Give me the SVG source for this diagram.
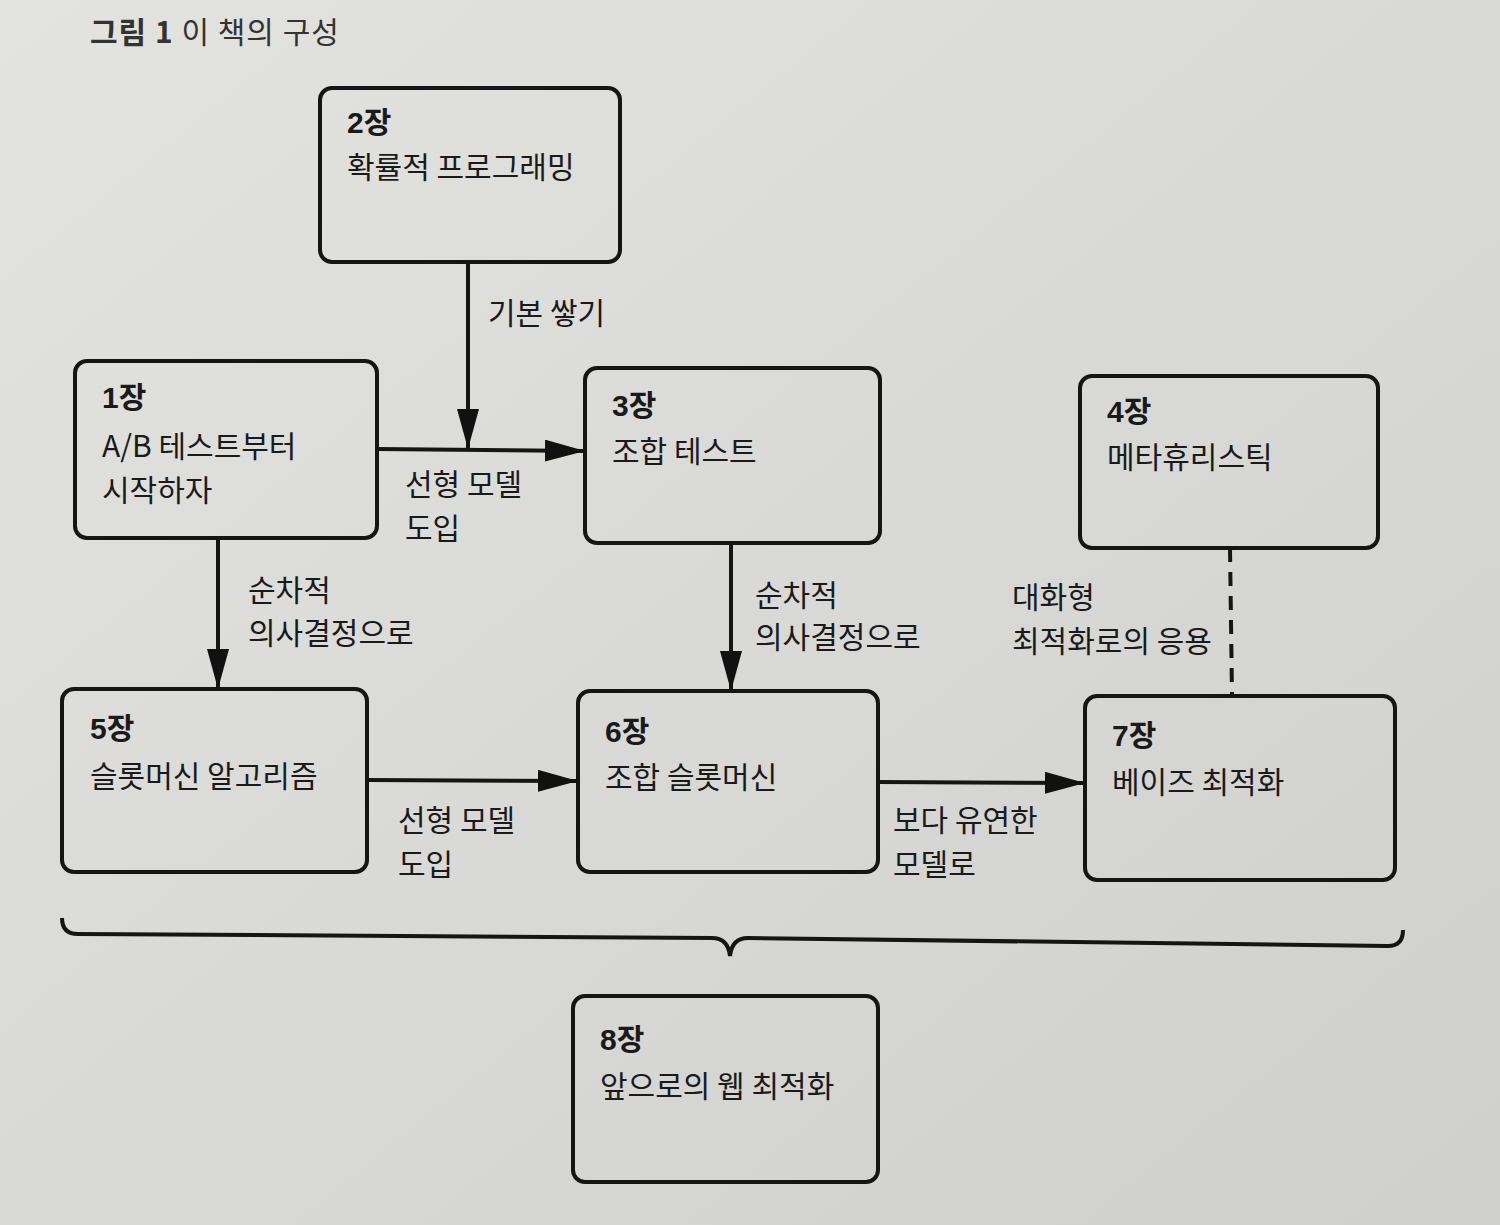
<svg xmlns="http://www.w3.org/2000/svg" width="1500" height="1225" viewBox="0 0 1500 1225">
<defs>
<marker id="arrBig" viewBox="0 0 40 22" refX="40" refY="11" markerWidth="40" markerHeight="22" markerUnits="userSpaceOnUse" orient="auto">
<path d="M0,0 L40,11 L0,22 Z" fill="#111"/>
</marker>
<linearGradient id="bg" x1="0" y1="0" x2="1" y2="1">
<stop offset="0" stop-color="#e3e3e0"/>
<stop offset="1" stop-color="#cfd0ce"/>
</linearGradient>
</defs>
<style>
.box{fill:none;stroke:#151515;stroke-width:4}
.t{font-family:"Noto Sans CJK KR","Noto Sans",sans-serif;font-size:30px;fill:#1a1a1a}
.h{font-family:"Liberation Sans","Noto Sans CJK KR",sans-serif;font-size:30px;font-weight:bold;fill:#1a1a1a}
.c{fill:none;stroke:#151515;stroke-width:4}
</style>
<rect x="0" y="0" width="1500" height="1225" fill="url(#bg)"/>
<text x="90" y="43" style="font-family:'Noto Sans CJK KR',sans-serif;font-size:30px;fill:#333;letter-spacing:1px"><tspan font-weight="bold">그림 1</tspan> 이 책의 구성</text>

<g id="node-ch2">
<rect class="box" x="320" y="88" width="300" height="174" rx="12"/>
<text class="h" x="347" y="133">2장</text>
<text class="t" x="347" y="178">확률적 프로그래밍</text>
</g>
<g id="node-ch1">
<rect class="box" x="75" y="361" width="302" height="177" rx="12"/>
<text class="h" x="102" y="408">1장</text>
<text class="t" x="102" y="457">A/B 테스트부터</text>
<text class="t" x="102" y="501">시작하자</text>
</g>
<g id="node-ch3">
<rect class="box" x="585" y="368" width="295" height="175" rx="12"/>
<text class="h" x="612" y="416">3장</text>
<text class="t" x="612" y="462">조합 테스트</text>
</g>
<g id="node-ch4">
<rect class="box" x="1080" y="376" width="298" height="172" rx="12"/>
<text class="h" x="1107" y="422">4장</text>
<text class="t" x="1107" y="468">메타휴리스틱</text>
</g>
<g id="node-ch5">
<rect class="box" x="62" y="689" width="305" height="183" rx="12"/>
<text class="h" x="90" y="739">5장</text>
<text class="t" x="90" y="787">슬롯머신 알고리즘</text>
</g>
<g id="node-ch6">
<rect class="box" x="578" y="691" width="300" height="181" rx="12"/>
<text class="h" x="605" y="742">6장</text>
<text class="t" x="605" y="788">조합 슬롯머신</text>
</g>
<g id="node-ch7">
<rect class="box" x="1085" y="696" width="310" height="184" rx="12"/>
<text class="h" x="1112" y="746">7장</text>
<text class="t" x="1112" y="793">베이즈 최적화</text>
</g>
<g id="node-ch8">
<rect class="box" x="573" y="996" width="305" height="186" rx="12"/>
<text class="h" x="600" y="1050">8장</text>
<text class="t" x="600" y="1097">앞으로의 웹 최적화</text>
</g>

<g id="connectors">
<line class="c" x1="468" y1="262" x2="468" y2="449" marker-end="url(#arrBig)"/>
<line class="c" x1="377" y1="449" x2="585" y2="451" marker-end="url(#arrBig)"/>
<line class="c" x1="218" y1="538" x2="218" y2="689" marker-end="url(#arrBig)"/>
<line class="c" x1="731" y1="543" x2="731" y2="691" marker-end="url(#arrBig)"/>
<line class="c" x1="367" y1="780" x2="578" y2="781" marker-end="url(#arrBig)"/>
<line class="c" x1="878" y1="782" x2="1085" y2="783" marker-end="url(#arrBig)"/>
<line x1="1230" y1="548" x2="1232" y2="696" stroke="#151515" stroke-width="4" stroke-dasharray="14,10"/>
<path class="c" d="M62,918 Q62,934 78,934 L712,938 Q728,938 730,956 Q732,938 748,938 L1388,946 Q1403,946 1403,930"/>
<text class="t" x="488" y="324">기본 쌓기</text>
<text class="t" x="405" y="495">선형 모델</text>
<text class="t" x="405" y="539">도입</text>
<text class="t" x="248" y="601">순차적</text>
<text class="t" x="248" y="644">의사결정으로</text>
<text class="t" x="755" y="606">순차적</text>
<text class="t" x="755" y="648">의사결정으로</text>
<text class="t" x="1012" y="608">대화형</text>
<text class="t" x="1012" y="652">최적화로의 응용</text>
<text class="t" x="398" y="831">선형 모델</text>
<text class="t" x="398" y="875">도입</text>
<text class="t" x="893" y="831">보다 유연한</text>
<text class="t" x="893" y="875">모델로</text>
</g>
</svg>
